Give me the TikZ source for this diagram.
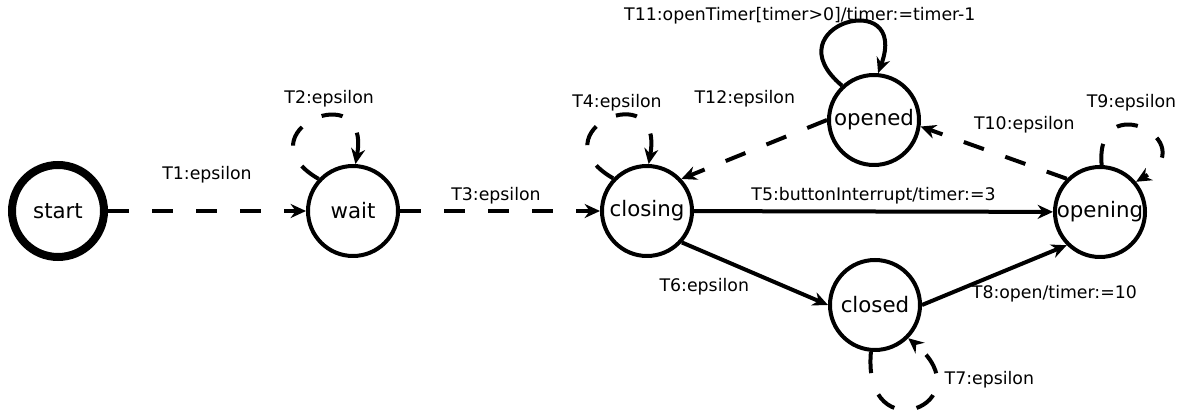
\documentclass[tikz,border=0pt]{standalone}
\usepackage{fontspec}
\setmainfont{DejaVu Sans}
\usepackage{tikz}
\usetikzlibrary{arrows.meta}

\tikzset{
  stnode/.style={circle, draw, line width=3pt, minimum size=67.5pt, inner sep=0pt, font=\fontsize{16}{18}\selectfont},
  startnode/.style={stnode, line width=6pt, minimum size=69pt},
  trans/.style={line width=3pt, -{Stealth[length=11.5pt,width=10.5pt]}},
  eps/.style={trans, dash pattern=on 16pt off 17pt},
  lbl/.style={font=\fontsize{13}{15}\selectfont, inner sep=0pt},
}

\begin{document}
\begin{tikzpicture}[x=0.75pt, y=0.75pt]
    \useasboundingbox (0,0) rectangle (1182,410);
    % States
    \node[startnode] (start) at (58,199) {start};
    \node[stnode] (wait) at (353,199) {wait};
    \node[stnode] (closing) at (647,199) {closing};
    \node[stnode] (opened) at (874,290) {opened};
    \node[stnode] (opening) at (1100,198) {opening};
    \node[stnode] (closed) at (875,105) {closed};

    % Transitions between states
    \draw[eps] (start) -- (wait) node[lbl, midway, yshift=27pt]{T1:epsilon};
    \draw[eps] (wait) -- (closing) node[lbl, midway, xshift=-3pt, yshift=11.5pt]{T3:epsilon};
    \draw[trans] (closing) -- (opening) node[lbl, midway, yshift=12pt]{T5:buttonInterrupt/timer:=3};
    \draw[trans] (closing.-42) -- (closed.west) node[lbl, midway, xshift=-38pt, yshift=-10pt]{T6:epsilon};
    \draw[trans] (closed.east) -- (opening.225) node[lbl, midway, xshift=45pt, yshift=-14pt]{T8:open/timer:=10};
    \draw[eps] (opened.west) -- (closing.43) node[lbl, midway, xshift=-7pt, yshift=38pt]{T12:epsilon};
    \draw[eps] (opening.135) -- (opened.-8) node[lbl, midway, xshift=23pt, yshift=21pt]{T10:epsilon};

    % Self loops
    \draw[eps] (wait.137) to[out=150, in=80, distance=69pt] node[lbl, pos=0.5, xshift=12pt, yshift=16.5pt]{T2:epsilon} (wait.87);
    \draw[eps] (closing.136) to[out=150, in=80, distance=69pt] node[lbl, pos=0.5, xshift=7.5pt, yshift=13pt]{T4:epsilon} (closing.88);
    \draw[trans] (opened.133) to[out=140, in=70, distance=70pt] node[lbl, pos=0.5, xshift=-34pt, yshift=6pt]{T11:openTimer[timer>0]/timer:=timer-1} (opened.85);
    \draw[eps] (opening.88) to[out=95, in=30, distance=60pt] node[lbl, pos=0.5, xshift=-8pt, yshift=19.5pt]{T9:epsilon} (opening.40);
    \draw[eps] (closed.265) to[out=265, in=-40, distance=76pt] node[lbl, pos=0.5, xshift=55.5pt, yshift=21pt]{T7:epsilon} (closed.-45);
\end{tikzpicture}
\end{document}
